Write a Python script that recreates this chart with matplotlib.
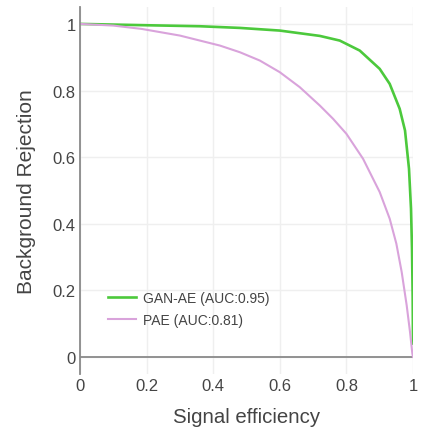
import numpy as np
import matplotlib
matplotlib.use("Agg")
import matplotlib.pyplot as plt

plt.rcParams['font.family'] = ['Liberation Sans', 'DejaVu Sans']

# ROC-style curves: signal efficiency vs background rejection
gan_eff = [0.0, 0.1, 0.2, 0.36, 0.48, 0.6, 0.72, 0.78, 0.84, 0.9, 0.93, 0.96,
           0.976, 0.988, 0.994, 0.997, 0.999, 1.0]
gan_rej = [1.0, 0.998, 0.996, 0.993, 0.988, 0.98, 0.964, 0.95, 0.92, 0.865, 0.82, 0.745,
           0.68, 0.565, 0.445, 0.325, 0.18, 0.04]

pae_eff = [0.0, 0.1, 0.185, 0.3, 0.36, 0.42, 0.48, 0.54, 0.6, 0.66, 0.72, 0.76, 0.8,
           0.85, 0.9, 0.93, 0.95, 0.966, 0.981, 0.991, 0.998, 1.0]
pae_rej = [1.0, 0.995, 0.985, 0.965, 0.95, 0.935, 0.915, 0.89, 0.855, 0.81, 0.755, 0.715, 0.67,
           0.595, 0.495, 0.415, 0.34, 0.255, 0.155, 0.075, 0.01, 0.0]

labels = ["GAN-AE (AUC:0.95)", "PAE (AUC:0.81)"]
ticks = [0, 0.2, 0.4, 0.6, 0.8, 1]
tick_labels = ["0", "0.2", "0.4", "0.6", "0.8", "1"]

fig = plt.figure(figsize=(4.21, 4.35), dpi=100)
ax = fig.add_axes([0.190, 0.139, 0.791, 0.842])

ax.plot(gan_eff, gan_rej, color="#4cc93c", lw=1.9, label=labels[0])
ax.plot(pae_eff, pae_rej, color="#d9a3db", lw=1.5, label=labels[1])

ax.set_xlim(0, 1)
ax.set_ylim(-0.05, 1.05)
ax.set_xticks(ticks)
ax.set_xticklabels(tick_labels)
ax.set_yticks(ticks)
ax.set_yticklabels(tick_labels, rotation=0)

ax.grid(True, color="#efefef", lw=1)
ax.set_axisbelow(True)
ax.axhline(0, color="#8a8a8a", lw=1.3, zorder=1)
for s in ["top", "right", "bottom"]:
    ax.spines[s].set_visible(False)
ax.spines["left"].set_color("#8a8a8a")
ax.spines["left"].set_linewidth(1.3)
ax.tick_params(length=0, labelsize=12, labelcolor="#444444")
ax.tick_params(axis="x", pad=3)
ax.tick_params(axis="y", pad=3)

ax.set_xlabel("Signal efficiency", fontsize=14.7, color="#444444", labelpad=10)
ax.set_ylabel("Background Rejection", fontsize=15, color="#444444", labelpad=12)

leg = ax.legend(loc="upper left", bbox_to_anchor=(0.085, 0.226), frameon=False,
                fontsize=10, handlelength=2.0, handletextpad=0.5,
                labelspacing=0.6, borderpad=0, borderaxespad=0)
for t in leg.get_texts():
    t.set_color("#444444")

fig.savefig("out.png", dpi=100)
